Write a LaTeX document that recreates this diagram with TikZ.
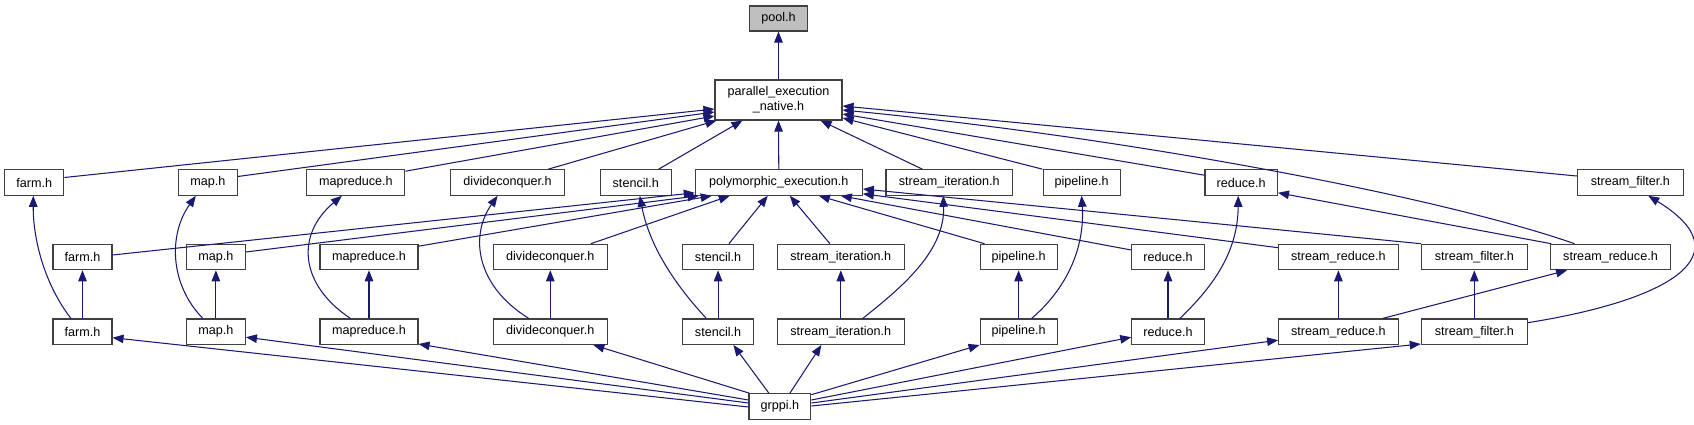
\documentclass[tikz,border=0pt]{standalone}
\usepackage{fontspec}
\setmainfont{Liberation Sans}
\usetikzlibrary{arrows.meta,calc}
\definecolor{edgecol}{HTML}{191970}
\definecolor{poolfill}{HTML}{BFBFBF}
\begin{document}
\begin{tikzpicture}[x=1pt,y=-1pt,
  box/.style={draw=black!75, line width=1.1pt, inner sep=0pt, minimum height=25.5pt, font=\fontsize{12.6}{15}\selectfont},
  edge/.style={draw=edgecol, line width=1.05pt, -{Triangle[length=11pt,width=8.5pt]}}]
\useasboundingbox (0,0) rectangle (1694,425);
% row 1
\node[box, fill=poolfill, minimum width=57.5pt, minimum height=25pt] (pool) at (778.5,18.5) {pool.h};
\node[box, minimum width=127pt, minimum height=40pt, align=center] (pen) at (778.5,100) {parallel\_execution\\\_native.h};
% row 2
\node[box, minimum width=59pt] (farmB) at (34.3,182.5) {farm.h};
\node[box, minimum width=59pt] (mapB) at (207.8,182.5) {map.h};
\node[box, minimum width=98pt] (mapredB) at (355.9,182.5) {mapreduce.h};
\node[box, minimum width=114pt] (dcB) at (507.6,182.5) {divideconquer.h};
\node[box, minimum width=70.5pt] (stencilB) at (635.8,182.5) {stencil.h};
\node[box, minimum width=167pt] (poly) at (778.8,182.5) {polymorphic\_execution.h};
\node[box, minimum width=126.7pt] (siB) at (949.3,182.5) {stream\_iteration.h};
\node[box, minimum width=77pt] (pipeB) at (1081.6,182.5) {pipeline.h};
\node[box, minimum width=72.5pt] (reduceB) at (1241.2,182.5) {reduce.h};
\node[box, minimum width=106pt] (sfB) at (1630.3,182.5) {stream\_filter.h};
% row 3
\node[box, minimum width=59pt] (farmC) at (82.5,257) {farm.h};
\node[box, minimum width=59pt] (mapC) at (215.9,257) {map.h};
\node[box, minimum width=98pt] (mapredC) at (369,257) {mapreduce.h};
\node[box, minimum width=114pt] (dcC) at (550.3,257) {divideconquer.h};
\node[box, minimum width=70.5pt] (stencilC) at (718.1,257) {stencil.h};
\node[box, minimum width=126.7pt] (siC) at (840.8,257) {stream\_iteration.h};
\node[box, minimum width=77pt] (pipeC) at (1018.6,257) {pipeline.h};
\node[box, minimum width=72.5pt] (reduceC) at (1168,257) {reduce.h};
\node[box, minimum width=119.5pt] (srC) at (1338.4,257) {stream\_reduce.h};
\node[box, minimum width=106pt] (sfC) at (1474.3,257) {stream\_filter.h};
\node[box, minimum width=119.5pt] (srR) at (1610.5,257) {stream\_reduce.h};
% row 4
\node[box, minimum width=59pt] (farmD) at (82.5,331.7) {farm.h};
\node[box, minimum width=59pt] (mapD) at (215.9,331.7) {map.h};
\node[box, minimum width=98pt] (mapredD) at (369,331.7) {mapreduce.h};
\node[box, minimum width=114pt] (dcD) at (550.3,331.7) {divideconquer.h};
\node[box, minimum width=70.5pt] (stencilD) at (718.1,331.7) {stencil.h};
\node[box, minimum width=126.7pt] (siD) at (840.8,331.7) {stream\_iteration.h};
\node[box, minimum width=77pt] (pipeD) at (1018.6,331.7) {pipeline.h};
\node[box, minimum width=72.5pt] (reduceD) at (1168,331.7) {reduce.h};
\node[box, minimum width=119.5pt] (srD) at (1338.4,331.7) {stream\_reduce.h};
\node[box, minimum width=106pt] (sfD) at (1474.3,331.7) {stream\_filter.h};
% row 5
\node[box, minimum width=61.8pt] (grppi) at (779.9,406.5) {grppi.h};

% pen -> pool
\draw[edge] (pen.north) -- (pool.south);
% into pen
\draw[edge] ($(farmB.east)+(0,-5)$) -- ($(pen.west)+(0,9)$);
\draw[edge] ($(mapB.east)+(0,-6)$) -- ($(pen.west)+(0,12)$);
\draw[edge] ($(mapredB.north east)+(0,2)$) -- ($(pen.west)+(0,16)$);
\draw[edge] ($(dcB.north east)+(-17,0)$) -- ($(pen.south west)+(2,0)$);
\draw[edge] ($(stencilB.north east)+(-13,0)$) -- ($(pen.south west)+(28,0)$);
\draw[edge] (poly.north) -- (pen.south);
\draw[edge] ($(siB.north west)+(37,0)$) -- ($(pen.south east)+(-22,0)$);
\draw[edge] (pipeB.north west) -- ($(pen.east)+(0,18)$);
\draw[edge] ($(reduceB.north west)+(0,6)$) -- ($(pen.east)+(0,14)$);
\draw[edge] ($(srR.north)+(-36,0)$) .. controls (1450,200) and (1150,140) .. ($(pen.east)+(0,10)$);
\draw[edge] ($(sfB.west)+(0,-6.5)$) -- ($(pen.east)+(0,6)$);
% into poly
\draw[edge] ($(farmC.east)+(0,-2)$) -- ($(poly.south west)+(0,-3)$);
\draw[edge] ($(mapC.east)+(0,-5)$) -- ($(poly.south west)+(4,0)$);
\draw[edge] ($(mapredC.north east)+(0,2.5)$) -- ($(poly.south west)+(17,0)$);
\draw[edge] ($(dcC.north east)+(-17,0)$) -- ($(poly.south west)+(35,0)$);
\draw[edge] ($(stencilC.north east)+(-25,0)$) -- ($(poly.south west)+(73,0)$);
\draw[edge] ($(siC.north west)+(53,0)$) -- ($(poly.south)+(11,0)$);
\draw[edge] ($(pipeC.north west)+(5,0)$) -- ($(poly.south east)+(-44,0)$);
\draw[edge] ($(reduceC.west)+(0,-7)$) -- ($(poly.south east)+(-22,0)$);
\draw[edge] ($(srC.north west)+(0,4)$) -- ($(poly.south east)+(0,-2)$);
\draw[edge] (sfC.north west) -- ($(poly.east)+(0,6.5)$);
% row 4 -> row 3
\draw[edge] (farmD) -- (farmC);
\draw[edge] (mapD) -- (mapC);
\draw[edge] (mapredD) -- (mapredC);
\draw[edge] (dcD) -- (dcC);
\draw[edge] (stencilD) -- (stencilC);
\draw[edge] (siD) -- (siC);
\draw[edge] (pipeD) -- (pipeC);
\draw[edge] (reduceD) -- (reduceC);
\draw[edge] (srD) -- (srC);
\draw[edge] (sfD) -- (sfC);
% row 4 -> row 2 curves
\draw[edge] ($(farmD.north west)+(18.5,0)$) .. controls (45,285) and (33,240) .. ($(farmB.south)+(-1,0)$);
\draw[edge] ($(mapD.north west)+(17,0)$) .. controls (170,285) and (168,235) .. ($(mapB.south)+(-12,0)$);
\draw[edge] ($(mapredD.north west)+(31,0)$) .. controls (300,285) and (295,235) .. ($(mapredB.south)+(-14,0)$);
\draw[edge] ($(dcD.north west)+(36,0)$) .. controls (475,285) and (470,235) .. ($(dcB.south)+(-10,0)$);
\draw[edge] ($(stencilD.north west)+(24,0)$) .. controls (680,290) and (650,250) .. ($(stencilB.south)+(4,0)$);
\draw[edge] ($(siD.north east)+(-42,0)$) .. controls (905,285) and (945,250) .. ($(siB.south)+(-6,0)$);
\draw[edge] ($(pipeD.north east)+(-26,0)$) .. controls (1065,290) and (1085,250) .. (pipeB.south);
\draw[edge] ($(reduceD.north east)+(-25,0)$) .. controls (1215,285) and (1238,250) .. ($(reduceB.south)+(-3,0)$);
\draw[edge] ($(sfD.east)+(0,-9)$) .. controls (1670,300) and (1745,255) .. ($(sfB.south)+(18,0)$);
\draw[edge] ($(srD.north east)+(-16,0)$) -- ($(srR.south)+(-43.5,0)$);
\draw[edge] ($(srR.north west)+(1,0)$) -- ($(reduceB.south east)+(0,-3)$);
% grppi -> row 4
\draw[edge] ($(grppi.west)+(0,0.5)$) -- ($(farmD.east)+(0,6)$);
\draw[edge] ($(grppi.west)+(0,-3.5)$) -- ($(mapD.east)+(0,5.5)$);
\draw[edge] ($(grppi.west)+(0,-6.5)$) -- ($(mapredD.south east)+(0,-1)$);
\draw[edge] ($(grppi.north west)+(1,0)$) -- ($(dcD.south east)+(-14.5,0)$);
\draw[edge] ($(grppi.north)+(-11,0)$) -- ($(stencilD.south east)+(-20.5,0)$);
\draw[edge] ($(grppi.north)+(10,0)$) -- ($(siD.south west)+(44.5,0)$);
\draw[edge] ($(grppi.north east)+(0,1.5)$) -- (pipeD.south west);
\draw[edge] ($(grppi.east)+(0,-6.5)$) -- ($(reduceD.west)+(0,5.5)$);
\draw[edge] ($(grppi.east)+(0,-3.5)$) -- ($(srD.west)+(0,8.5)$);
\draw[edge] ($(grppi.east)+(0,-0.5)$) -- ($(sfD.south west)+(0,-1)$);
\end{tikzpicture}
\end{document}
